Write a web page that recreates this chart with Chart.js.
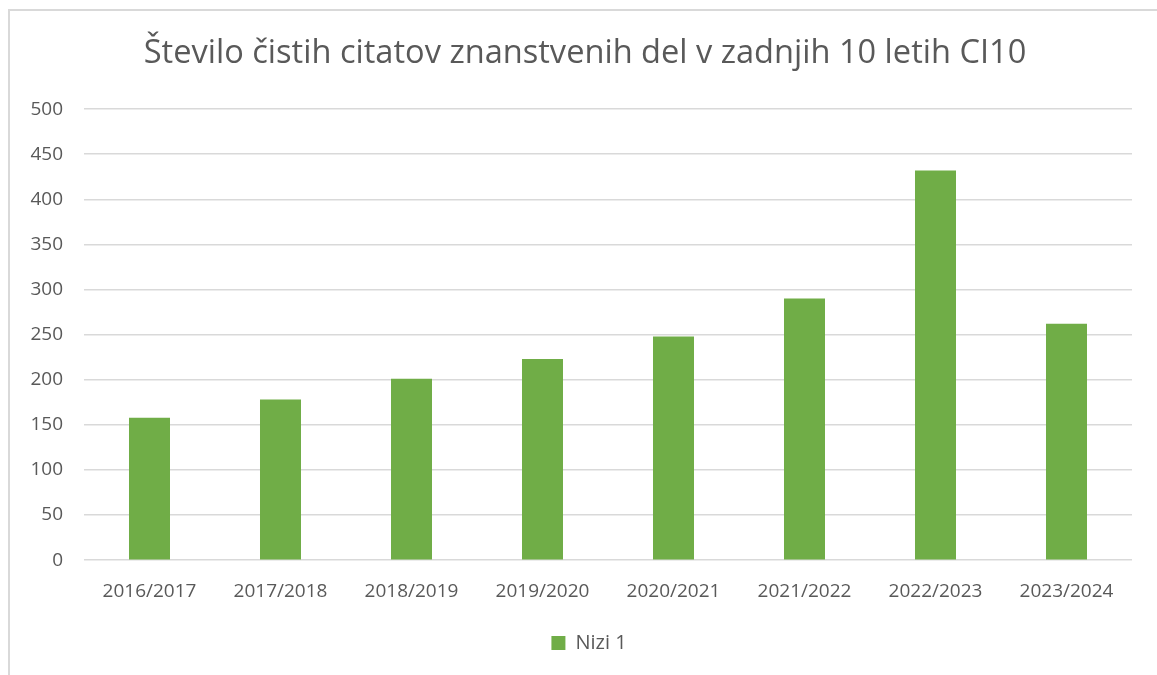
<!DOCTYPE html>
<html>
<head>
<meta charset="utf-8">
<script src="https://cdn.jsdelivr.net/npm/chart.js@4"></script>
<style>
  body { margin: 0; background: #fff; overflow: hidden; }
  #frame { position: absolute; left: 8px; top: 9px; width: 2000px; height: 2000px;
           border-left: 2px solid #d9d9d9; border-top: 2px solid #d9d9d9; }
  #chart { position: absolute; left: 0; top: 0; }
</style>
</head>
<body>
<div id="frame"></div>
<canvas id="chart" width="1157" height="675"></canvas>
<script>
const years = ['2016/2017', '2017/2018', '2018/2019', '2019/2020', '2020/2021', '2021/2022', '2022/2023', '2023/2024'];
const citations = [158, 178, 201, 223, 248, 290, 432, 262];
const seriesName = 'Nizi 1';
const titleText = 'Število čistih citatov znanstvenih del v zadnjih 10 letih CI10';

const textColor = '#595959';
const gridColor = '#d9d9d9';
const fontFamily = '"Open Sans", "DejaVu Sans", sans-serif';

// title and legend in the original sit a bit right of the canvas centre
const shiftBlocks = {
    id: 'shiftBlocks',
    afterLayout(chart) {
        if (chart.titleBlock) chart.titleBlock.left += 28;
        if (chart.legend) chart.legend.left += 36;
    }
};

const ctx = document.getElementById('chart').getContext('2d');
const chart = new Chart(ctx, {
    type: 'bar',
    data: {
        labels: years,
        datasets: [{
            label: seriesName,
            data: citations,
            backgroundColor: '#70ad47',
            borderWidth: 0,
            categoryPercentage: 1,
            barPercentage: 0.313
        }]
    },
    plugins: [shiftBlocks],
    options: {
        responsive: false,
        animation: false,
        layout: { padding: { left: 10, right: 25, top: 34, bottom: 12 } },
        plugins: {
            tooltip: { enabled: false },
            title: {
                display: true,
                text: titleText,
                color: textColor,
                font: { family: fontFamily, size: 32.6, weight: 'normal' },
                padding: { top: 0, bottom: 36 }
            },
            legend: {
                position: 'bottom',
                labels: {
                    color: textColor,
                    boxWidth: 14,
                    boxHeight: 14,
                    padding: 18,
                    font: { family: fontFamily, size: 20 }
                }
            }
        },
        scales: {
            y: {
                min: 0,
                max: 500,
                afterFit: (scale) => { scale.width = 74; },
                ticks: {
                    stepSize: 50,
                    color: textColor,
                    padding: 21,
                    font: { family: fontFamily, size: 19 }
                },
                grid: { color: gridColor, lineWidth: 1.5, drawTicks: false },
                border: { display: false }
            },
            x: {
                ticks: {
                    color: textColor,
                    padding: 12,
                    font: { family: fontFamily, size: 19 }
                },
                grid: { display: false },
                border: { display: false }
            }
        }
    }
});
</script>
</body>
</html>
